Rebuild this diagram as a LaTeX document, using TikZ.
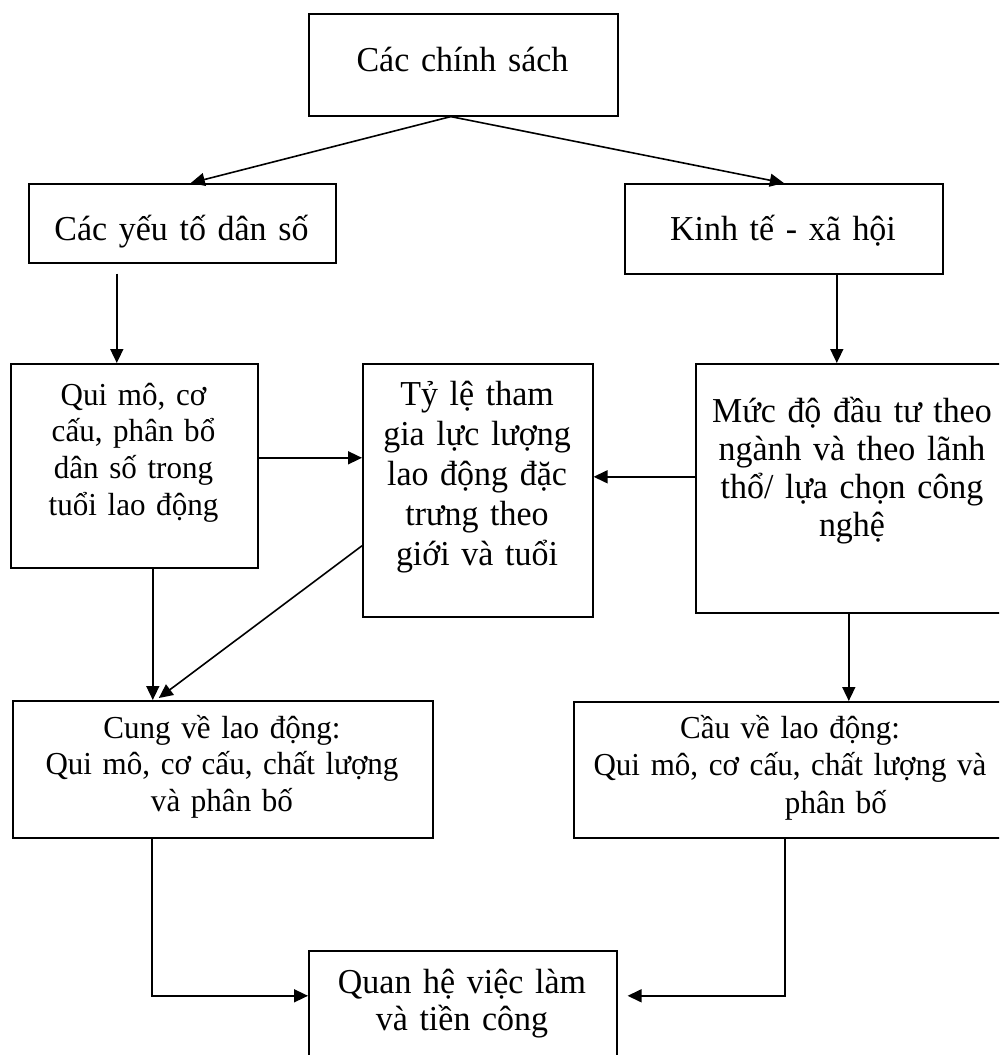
\documentclass[tikz,border=0pt]{standalone}
\usepackage{fontspec}
\setmainfont{Liberation Serif}[FakeStretch=0.97]
\usetikzlibrary{arrows.meta}
\newcommand\setfs[2]{\fontsize{#1}{#2}\selectfont}
\begin{document}
\begin{tikzpicture}[x=1pt,y=1pt,
  box/.style={draw, line width=1.6pt, inner sep=0pt, anchor=north west},
  lbl/.style={inner sep=0pt, anchor=base, align=center, text width=480pt},
  arr/.style={line width=1.6pt, -{Triangle[length=14pt,width=13pt]}}]
\useasboundingbox (0,0) rectangle (999,-1055);
\clip (0,0) rectangle (999,-1055);

% boxes
\node[box, minimum width=309pt, minimum height=102pt] (b1) at (308,-13) {};
\node[box, minimum width=307pt, minimum height=79pt]  (b2) at (28,-183) {};
\node[box, minimum width=318pt, minimum height=90pt]  (b3) at (624,-183) {};
\node[box, minimum width=247pt, minimum height=204pt] (b4) at (10,-363) {};
\node[box, minimum width=230pt, minimum height=253pt] (b5) at (362,-363) {};
\node[box, minimum width=316pt, minimum height=249pt] (b6) at (695,-363) {};
\node[box, minimum width=420pt, minimum height=137pt] (b7) at (12,-700) {};
\node[box, minimum width=446pt, minimum height=136pt] (b8) at (573,-701) {};
\node[box, minimum width=308pt, minimum height=130pt] (b9) at (308,-950) {};

% texts
\node[lbl, font=\setfs{35}{40}] (t1) at (462.5,-71) {Các chính sách};
\node[lbl, font=\setfs{35}{40}] (t2) at (181.5,-240) {Các yếu tố dân số};
\node[lbl, font=\setfs{35}{40}] (t3) at (783,-240) {Kinh tế - xã hội};
\node[lbl, font=\setfs{32}{36.8}] (t4) at (133.5,-405)
  {Qui mô, cơ\\cấu, phân bổ\\dân số trong\\tuổi lao động};
\node[lbl, font=\setfs{35}{40}] (t5) at (477,-405)
  {Tỷ lệ tham\\gia lực lượng\\lao động đặc\\trưng theo\\giới và tuổi};
\node[lbl, font=\setfs{35}{38.3}] (t6) at (852,-422)
  {Mức độ đầu tư theo\\ngành và theo lãnh\\thổ/ lựa chọn công\\nghệ};
\node[lbl, font=\setfs{32}{36.8}] (t7) at (222,-738)
  {Cung về lao động:\\Qui mô, cơ cấu, chất lượng\\và phân bố};
\node[lbl, font=\setfs{32}{37.5}] (t8) at (790,-738)
  {Cầu về lao động:\hspace*{28pt}\\Qui mô, cơ cấu, chất lượng và\\\hspace*{92pt}phân bố};
\node[lbl, font=\setfs{35}{37}] (t9) at (462,-993)
  {Quan hệ việc làm\\và tiền công};

% connectors
\draw[arr] ([xshift=-12.5pt]b1.south) -- ([xshift=8.5pt]b2.north);
\draw[arr] ([xshift=-12.5pt]b1.south) -- (b3.north);
\draw[arr] ([shift={(-65.5pt,-10pt)}]b2.south) -- ([xshift=-17.5pt]b4.north);
\draw[arr] ([xshift=53pt]b3.south) -- ([xshift=-17pt]b6.north);

\coordinate (p45) at ([yshift=8pt]b4.east);
\draw[arr] (p45) -- (p45 -| b5.west);
\coordinate (p65) at ([yshift=11.5pt]b6.west);
\draw[arr] (p65) -- (p65 -| b5.east);

\draw[arr] ([yshift=-55.5pt]b5.west) -- ([shift={(-64pt,2pt)}]b7.north);
\draw[arr] ([xshift=18.5pt]b4.south) -- ([xshift=-70pt]b7.north);
\draw[arr] ([xshift=-5pt]b6.south) -- ([xshift=52pt]b8.north);

\coordinate (q9l) at ([yshift=20pt]b9.west);
\coordinate (q9r) at ([shift={(10pt,20pt)}]b9.east);
\draw[arr] ([xshift=-71pt]b7.south) |- (q9l);
\draw[arr] ([xshift=-12pt]b8.south) |- (q9r);
\end{tikzpicture}
\end{document}
